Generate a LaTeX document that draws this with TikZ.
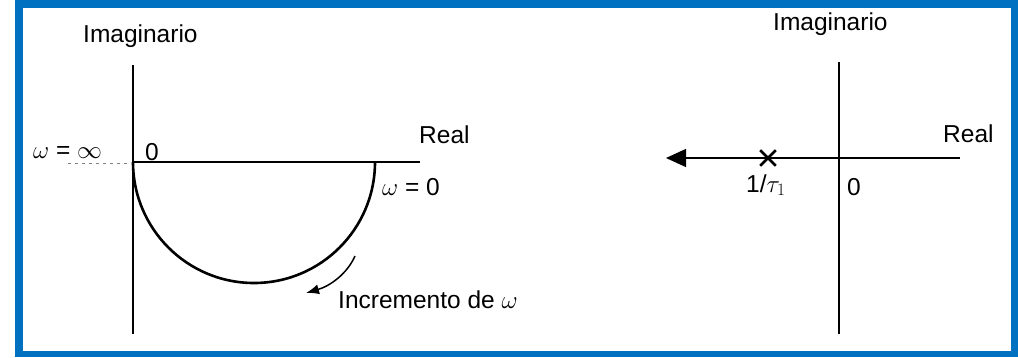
\documentclass[tikz,border=0pt]{standalone}
\usepackage{fontspec}
\setmainfont{Liberation Sans}
\usetikzlibrary{arrows.meta,shapes.misc}
\definecolor{frameblue}{HTML}{0070C0}
\begin{document}
\begin{tikzpicture}[x=1pt,y=-1pt,
  lbl/.style={inner sep=0pt,anchor=base west,font=\fontsize{24.5}{28}\selectfont},
  axis/.style={line width=1.4pt,black},
  curve/.style={line width=2.6pt,black}]
\useasboundingbox (0,0) rectangle (1018,357);
\fill[frameblue] (15,0) rectangle (1018,357);
\fill[white] (23,8) rectangle (1011,351);
% ---- left diagram
\coordinate (lTop) at (133,65);
\coordinate (lBot) at (133,334);
\coordinate (lO) at (133,162);
\coordinate (lR) at (420,162);
\draw[axis] (lTop) -- (lBot);
\draw[axis] (lO) -- (lR);
\draw[curve] (lO) arc[start angle=180,end angle=0,radius=121];
\node[lbl] (imL) at (83,42) {Imaginario};
\node[lbl] (reL) at (419,143) {Real};
\node[lbl] (zL) at (145,160) {0};
\node[lbl] (winf) at (33,158) {$\omega$ = $\infty$};
\coordinate (dotA) at (68,163);
\coordinate (dotB) at (128,163);
\draw[gray,line width=1pt,dash pattern=on 3pt off 4pt] (dotA) -- (dotB);
\node[lbl] (wz) at (382,195) {$\omega$ = 0};
\node[lbl] (inc) at (338,308) {Incremento de $\omega$};
\coordinate (incA) at (355,256);
\coordinate (incB) at (306,293);
\draw[line width=1.5pt,-{Latex[length=13pt,width=10pt]}] (incA) .. controls (347,274) and (330,286) .. (incB);
% ---- right diagram
\coordinate (rTop) at (839,62);
\coordinate (rBot) at (839,334);
\coordinate (rE) at (960,158);
\coordinate (rW) at (666,158);
\draw[axis] (rTop) -- (rBot);
\draw[axis,-{Triangle[length=20pt,width=18pt]}] (rE) -- (rW);
\node[line width=2.6pt,draw,cross out,minimum size=13pt,inner sep=0pt] (pole) at (768,158) {};
\node[lbl] (imR) at (773,30) {Imaginario};
\node[lbl] (reR) at (943,142) {Real};
\node[lbl] (pl) at (746,192) {1/$\tau_1$};
\node[lbl] (zR) at (847,195) {0};
\end{tikzpicture}
\end{document}
